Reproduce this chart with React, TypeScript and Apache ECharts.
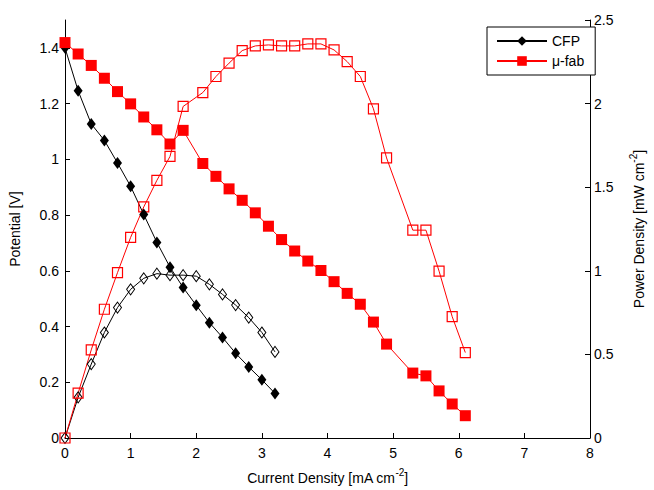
import React, { useEffect, useRef } from "react";
import * as echarts from "echarts";

const cfpCurrent = [0, 0.2, 0.4, 0.6, 0.8, 1.0, 1.2, 1.4, 1.6, 1.8, 2.0, 2.2, 2.4, 2.6, 2.8, 3.0, 3.2];
const cfpPotential = [1.4, 1.246, 1.127, 1.068, 0.987, 0.903, 0.802, 0.702, 0.613, 0.54, 0.476, 0.414, 0.361, 0.304, 0.255, 0.209, 0.16];
const cfpPower = [0, 0.243, 0.442, 0.631, 0.78, 0.889, 0.955, 0.983, 0.974, 0.974, 0.968, 0.919, 0.859, 0.795, 0.72, 0.631, 0.515];

const fabCurrent = [0, 0.2, 0.4, 0.6, 0.8, 1.0, 1.2, 1.4, 1.6, 1.8, 2.1, 2.3, 2.5, 2.7, 2.9, 3.1, 3.3, 3.5, 3.7, 3.9, 4.1, 4.3, 4.5, 4.7, 4.9, 5.3, 5.5, 5.7, 5.9, 6.1];
const fabPotential = [1.419, 1.378, 1.337, 1.291, 1.243, 1.199, 1.152, 1.106, 1.055, 1.104, 0.985, 0.939, 0.894, 0.853, 0.808, 0.76, 0.712, 0.671, 0.635, 0.601, 0.561, 0.519, 0.48, 0.416, 0.337, 0.233, 0.223, 0.169, 0.122, 0.08];
const fabPower = [0, 0.268, 0.527, 0.77, 0.989, 1.2, 1.382, 1.541, 1.684, 1.983, 2.066, 2.162, 2.242, 2.317, 2.345, 2.351, 2.345, 2.345, 2.357, 2.357, 2.321, 2.251, 2.162, 1.969, 1.675, 1.243, 1.243, 0.998, 0.726, 0.511];

const xTicks = [0, 1, 2, 3, 4, 5, 6, 7, 8];
const leftTicks = [0, 0.2, 0.4, 0.6, 0.8, 1, 1.2, 1.4];
const rightTicks = [0, 0.5, 1, 1.5, 2, 2.5];

const FONT = "Liberation Sans, Arial, sans-serif";

function pairs(xs: number[], ys: number[]) {
  return xs.map((x, i) => [x, ys[i]]);
}

export default function App() {
  const ref = useRef<HTMLDivElement>(null);
  useEffect(() => {
    if (!ref.current) return;
    const chart = echarts.init(ref.current, undefined, { renderer: "svg" });
    const axisCommon = {
      axisLine: { show: true, onZero: false, lineStyle: { color: "#000", width: 1 } },
      axisTick: { show: true, inside: true, length: 5, lineStyle: { color: "#000" } },
      splitLine: { show: false },
      axisLabel: { color: "#000", fontSize: 14, fontFamily: FONT },
    };
    const richName = {
      a: { fontSize: 14, fontFamily: FONT, color: "#000", lineHeight: 18, verticalAlign: "bottom" },
      b: { fontSize: 10, fontFamily: FONT, color: "#000", lineHeight: 18, verticalAlign: "top" },
    };
    chart.setOption({
      animation: false,
      backgroundColor: "#fff",
      grid: { left: 64, right: 55, top: 20, bottom: 51, containLabel: false },
      legend: {
        orient: "vertical",
        left: 487,
        top: 27,
        padding: [7, 11, 7, 9],
        itemGap: 6,
        itemWidth: 50,
        itemHeight: 12,
        borderColor: "#000",
        borderWidth: 1,
        backgroundColor: "#fff",
        textStyle: { color: "#000", fontSize: 14, fontFamily: FONT },
        data: ["CFP", "μ-fab"],
      },
      xAxis: {
        type: "value",
        min: 0,
        max: 8,
        interval: 1,
        ...axisCommon,
        axisLabel: { ...axisCommon.axisLabel, customValues: xTicks, margin: 8 },
        axisTick: { ...axisCommon.axisTick, customValues: xTicks },
        name: "{a|Current Density [mA cm}{b|-2}{a|]}",
        nameLocation: "middle",
        nameGap: 29,
        nameTextStyle: { rich: richName },
      },
      yAxis: [
        {
          type: "value",
          position: "left",
          min: 0,
          max: 1.5,
          ...axisCommon,
          axisLabel: { ...axisCommon.axisLabel, customValues: leftTicks, margin: 6 },
          axisTick: { ...axisCommon.axisTick, customValues: leftTicks },
          name: "Potential [V]",
          nameLocation: "middle",
          nameRotate: 90,
          nameGap: 43,
          nameTextStyle: { fontSize: 14, fontFamily: FONT, color: "#000" },
        },
        {
          type: "value",
          position: "right",
          min: 0,
          max: 2.5,
          interval: 0.5,
          ...axisCommon,
          axisLabel: { ...axisCommon.axisLabel, customValues: rightTicks, margin: 4 },
          axisTick: { ...axisCommon.axisTick, customValues: rightTicks },
          name: "{a|Power Density [mW cm}{b|-2}{a|]}",
          nameLocation: "middle",
          nameRotate: 90,
          nameGap: 38,
          nameTextStyle: { rich: richName },
        },
      ],
      series: [
        {
          name: "CFP power",
          type: "line",
          yAxisIndex: 1,
          data: pairs(cfpCurrent, cfpPower),
          symbol: "diamond",
          symbolSize: [8, 11],
          lineStyle: { color: "#000", width: 1 },
          itemStyle: { color: "rgba(0,0,0,0)", borderColor: "#000", borderWidth: 1 },
        },
        {
          name: "μ-fab power",
          type: "line",
          yAxisIndex: 1,
          data: pairs(fabCurrent, fabPower),
          symbol: "rect",
          symbolSize: 10,
          lineStyle: { color: "#ff0000", width: 1 },
          itemStyle: { color: "rgba(0,0,0,0)", borderColor: "#ff0000", borderWidth: 1.2 },
        },
        {
          name: "CFP",
          type: "line",
          yAxisIndex: 0,
          data: pairs(cfpCurrent, cfpPotential),
          symbol: "diamond",
          symbolSize: [9, 12],
          lineStyle: { color: "#000", width: 1 },
          itemStyle: { color: "#000" },
        },
        {
          name: "μ-fab",
          type: "line",
          yAxisIndex: 0,
          data: pairs(fabCurrent, fabPotential),
          symbol: "rect",
          symbolSize: 11,
          lineStyle: { color: "#ff0000", width: 1 },
          itemStyle: { color: "#ff0000" },
        },
      ],
    });
    return () => chart.dispose();
  }, []);
  return (
    <div
      ref={ref}
      style={{ position: "fixed", left: 0, top: 0, width: 654, height: 490, background: "#fff" }}
    />
  );
}
